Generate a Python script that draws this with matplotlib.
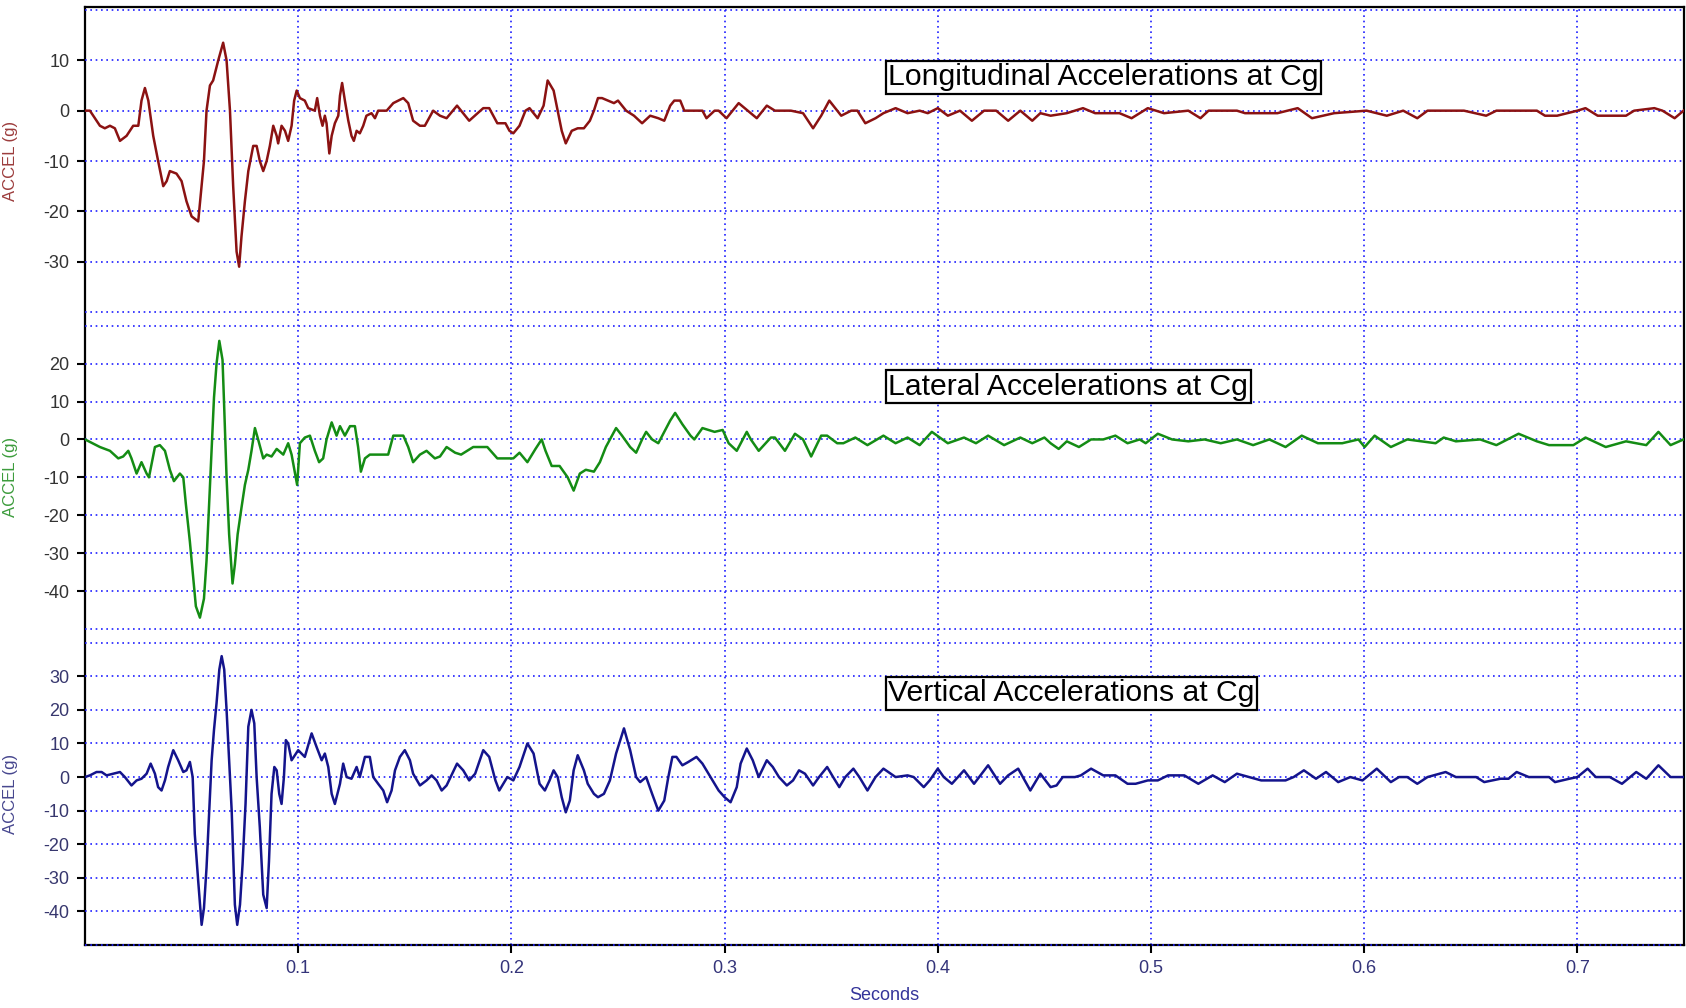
import numpy as np
import matplotlib.pyplot as plt

plt.rcParams['font.family'] = ['Liberation Sans', 'DejaVu Sans']
plt.rcParams['axes.unicode_minus'] = False

# time (s), acceleration (g)
longitudinal = [
    (0.0000, 0), (0.0023, 0), (0.0070, -3), (0.0093, -3.5), (0.0117, -3), (0.0140, -3.5),
    (0.0164, -6), (0.0195, -5), (0.0226, -3), (0.0250, -3), (0.0265, 2), (0.0281, 4.5),
    (0.0297, 2), (0.0320, -5), (0.0343, -10), (0.0367, -15), (0.0383, -14), (0.0398, -12),
    (0.0429, -12.5), (0.0453, -14), (0.0476, -18), (0.0500, -21), (0.0531, -22), (0.0547, -15),
    (0.0558, -10), (0.0570, 0), (0.0586, 5), (0.0601, 6), (0.0625, 10), (0.0648, 13.5),
    (0.0664, 10), (0.0680, 0), (0.0695, -15), (0.0711, -28), (0.0723, -31), (0.0734, -25),
    (0.0750, -18), (0.0766, -12), (0.0789, -7), (0.0805, -7), (0.0820, -10), (0.0836, -12),
    (0.0852, -10), (0.0867, -7), (0.0883, -3), (0.0899, -5), (0.0906, -6.5), (0.0922, -3),
    (0.0938, -4), (0.0953, -6), (0.0969, -3), (0.0981, 2), (0.0993, 4), (0.1008, 2.5),
    (0.1031, 2), (0.1047, 0.5), (0.1078, 0), (0.1089, 2.5), (0.1102, -1), (0.1114, -3),
    (0.1125, -1), (0.1133, -2.5), (0.1146, -8.5), (0.1157, -5), (0.1172, -2.5), (0.1188, -1),
    (0.1196, 3), (0.1206, 5.5), (0.1219, 2), (0.1235, -2), (0.1250, -5), (0.1261, -6),
    (0.1274, -4), (0.1289, -4.5), (0.1305, -3), (0.1320, -1), (0.1344, -0.5), (0.1360, -1.5),
    (0.1375, 0), (0.1415, 0), (0.1446, 1.5), (0.1493, 2.5), (0.1516, 1.5), (0.1539, -2),
    (0.1571, -3), (0.1594, -3), (0.1633, 0), (0.1665, -1), (0.1696, -1.5),
    (0.1745, 1), (0.1802, -2), (0.1868, 0.5), (0.1896, 0.5), (0.1934, -2.5), (0.1972, -2.5),
    (0.1991, -4), (0.2009, -4.5), (0.2038, -3), (0.2066, 0), (0.2085, 0.5), (0.2123, -1.5),
    (0.2151, 1), (0.2170, 6), (0.2198, 4), (0.2217, 0), (0.2236, -4), (0.2255, -6.5),
    (0.2283, -4), (0.2311, -3.5), (0.2340, -3.5), (0.2368, -2), (0.2387, 0), (0.2406, 2.5),
    (0.2425, 2.5), (0.2453, 2), (0.2481, 1.5), (0.2500, 2), (0.2538, 0), (0.2575, -1),
    (0.2613, -2.5), (0.2651, -1), (0.2689, -1.5), (0.2717, -2), (0.2745, 1), (0.2764, 2),
    (0.2792, 2), (0.2811, 0), (0.2896, 0), (0.2915, -1.5), (0.2953, 0), (0.2972, 0),
    (0.3009, -1.5), (0.3066, 1.5), (0.3123, -0.5), (0.3151, -1.5), (0.3198, 1), (0.3236, 0),
    (0.3311, 0), (0.3368, -0.5), (0.3415, -3.5), (0.3453, -1), (0.3491, 2), (0.3519, 0.5),
    (0.3547, -1), (0.3594, 0), (0.3623, 0), (0.3660, -2.5), (0.3708, -1.5), (0.3745, -0.5),
    (0.3802, 0.5), (0.3858, -0.5), (0.3915, 0), (0.3953, -0.5), (0.4000, 0.5), (0.4047, -1),
    (0.4104, 0), (0.4160, -2), (0.4217, 0), (0.4274, 0), (0.4330, -2), (0.4387, 0),
    (0.4443, -2), (0.4481, -0.5),
    (0.4529, -1), (0.4605, -0.5), (0.4681, 0.5), (0.4738, -0.5), (0.4852, -0.5), (0.4909, -1.5),
    (0.4985, 0.5), (0.5061, -0.5), (0.5175, 0), (0.5232, -1.5), (0.5270, 0), (0.5403, 0),
    (0.5441, -0.5), (0.5593, -0.5), (0.5688, 0.5), (0.5755, -1.5), (0.5859, -0.5), (0.6011, 0),
    (0.6106, -1), (0.6183, 0), (0.6249, -1.5), (0.6297, 0), (0.6468, 0), (0.6572, -1),
    (0.6620, 0), (0.6810, 0), (0.6848, -1), (0.6905, -1), (0.7000, 0), (0.7038, 0.5),
    (0.7095, -1), (0.7228, -1), (0.7266, 0), (0.7361, 0.5), (0.7399, 0), (0.7456, -1.5),
    (0.7498, 0),
]

lateral = [
    (0.0000, 0), (0.0070, -2), (0.0117, -3), (0.0156, -5), (0.0179, -4.5), (0.0203, -3),
    (0.0218, -5), (0.0242, -9), (0.0265, -6), (0.0289, -9), (0.0300, -10), (0.0328, -2),
    (0.0351, -1.5), (0.0375, -3), (0.0398, -8), (0.0417, -11), (0.0445, -9), (0.0461, -10),
    (0.0473, -17), (0.0492, -27), (0.0505, -35), (0.0520, -44), (0.0539, -47), (0.0558, -42),
    (0.0570, -32), (0.0583, -16), (0.0594, -2), (0.0605, 11), (0.0617, 20), (0.0630, 26),
    (0.0645, 21), (0.0652, 10), (0.0664, -10), (0.0676, -25), (0.0692, -38), (0.0703, -33),
    (0.0716, -25), (0.0734, -18), (0.0750, -12), (0.0766, -8), (0.0781, -3), (0.0797, 3),
    (0.0812, 0), (0.0836, -5), (0.0852, -4), (0.0875, -4.5), (0.0899, -2.5), (0.0930, -4),
    (0.0953, -1), (0.0969, -4), (0.0985, -9), (0.0995, -12), (0.1008, -1), (0.1031, 0.5),
    (0.1055, 1), (0.1078, -3), (0.1098, -6), (0.1117, -5), (0.1133, 0), (0.1157, 4.5),
    (0.1180, 1), (0.1196, 3.5), (0.1219, 1), (0.1243, 3.5), (0.1266, 3.5), (0.1281, -2),
    (0.1294, -8.5), (0.1313, -5), (0.1336, -4), (0.1383, -4), (0.1422, -4), (0.1446, 1),
    (0.1493, 1), (0.1516, -2), (0.1539, -6), (0.1571, -4), (0.1602, -3), (0.1641, -5),
    (0.1665, -4.5), (0.1696, -2),
    (0.1736, -3.5), (0.1764, -4), (0.1821, -2), (0.1887, -2), (0.1934, -5), (0.1972, -5),
    (0.2009, -5), (0.2038, -3.5), (0.2075, -6), (0.2113, -2.5), (0.2142, 0), (0.2160, -3),
    (0.2189, -7), (0.2226, -7), (0.2264, -10), (0.2292, -13.5), (0.2321, -9), (0.2349, -8),
    (0.2387, -8.5), (0.2415, -6), (0.2443, -2), (0.2462, 0), (0.2491, 3), (0.2519, 1),
    (0.2557, -2), (0.2585, -3.5), (0.2613, 0), (0.2632, 2), (0.2660, 0), (0.2689, -1),
    (0.2726, 3), (0.2745, 5), (0.2768, 7), (0.2802, 4), (0.2840, 1), (0.2858, 0),
    (0.2896, 3), (0.2925, 2.5), (0.2953, 2), (0.2991, 2.5), (0.3019, -1), (0.3057, -3),
    (0.3104, 2), (0.3123, 0), (0.3160, -3), (0.3217, 0.5), (0.3236, 0.5), (0.3283, -3),
    (0.3330, 1.5), (0.3368, 0), (0.3406, -4.5), (0.3453, 1), (0.3481, 1), (0.3528, -1),
    (0.3557, -1), (0.3613, 0.5), (0.3670, -1.5), (0.3745, 1), (0.3802, -1), (0.3858, 0.5),
    (0.3915, -1.5), (0.3972, 2), (0.4047, -1), (0.4123, 0.5), (0.4179, -1), (0.4236, 1),
    (0.4311, -1.5), (0.4387, 0.5), (0.4443, -1), (0.4500, 0.5),
    (0.4529, -1), (0.4567, -2.5), (0.4605, -0.5), (0.4662, -2), (0.4719, 0), (0.4776, 0),
    (0.4833, 1), (0.4890, -1), (0.4947, 0), (0.4975, -1), (0.5032, 1.5), (0.5099, 0),
    (0.5175, -0.5), (0.5251, 0), (0.5327, -1), (0.5403, 0), (0.5479, -1.5), (0.5555, 0),
    (0.5631, -2), (0.5707, 1), (0.5783, -1), (0.5897, -1), (0.5973, 0), (0.6002, -2),
    (0.6049, 1), (0.6125, -2), (0.6202, 0), (0.6335, -1), (0.6373, 0.5), (0.6430, -0.5),
    (0.6544, 0), (0.6620, -1.5), (0.6724, 1.5), (0.6810, -0.5), (0.6867, -1.5), (0.6981, -1.5),
    (0.7038, 0.5), (0.7133, -2), (0.7228, -0.5), (0.7323, -1.5), (0.7380, 2), (0.7437, -1.5),
    (0.7498, 0),
]

vertical = [
    (0.0000, 0), (0.0023, 0.5), (0.0054, 1.5), (0.0078, 1.5), (0.0101, 0.5), (0.0132, 1),
    (0.0164, 1.5), (0.0187, 0), (0.0218, -2.5), (0.0242, -1), (0.0265, -0.5), (0.0289, 1),
    (0.0308, 4), (0.0328, 1), (0.0343, -3), (0.0359, -4), (0.0375, -1), (0.0390, 3),
    (0.0414, 8), (0.0437, 5), (0.0461, 1.5), (0.0476, 2), (0.0492, 4.5), (0.0505, 0),
    (0.0515, -17), (0.0531, -31), (0.0547, -44), (0.0558, -39), (0.0570, -27), (0.0583, -10),
    (0.0594, 5), (0.0605, 14), (0.0617, 22), (0.0630, 32), (0.0641, 36), (0.0653, 32),
    (0.0664, 20), (0.0676, 5), (0.0688, -10), (0.0703, -38), (0.0714, -44), (0.0727, -38),
    (0.0739, -26), (0.0753, -8), (0.0766, 15), (0.0781, 20), (0.0794, 16), (0.0805, 0),
    (0.0820, -15), (0.0836, -35), (0.0852, -39), (0.0863, -25), (0.0875, -5), (0.0888, 3),
    (0.0899, 2), (0.0911, -5), (0.0922, -8), (0.0933, 0), (0.0942, 11), (0.0953, 10),
    (0.0969, 5), (0.1000, 8), (0.1031, 6), (0.1063, 13), (0.1086, 9), (0.1110, 5),
    (0.1125, 7), (0.1141, 3), (0.1157, -5), (0.1172, -8), (0.1196, -2), (0.1211, 4),
    (0.1227, 0), (0.1250, -0.5), (0.1274, 3), (0.1289, 0), (0.1313, 6), (0.1336, 6),
    (0.1352, 0), (0.1375, -2), (0.1399, -4), (0.1417, -7.5), (0.1438, -4), (0.1454, 2),
    (0.1477, 6), (0.1500, 8), (0.1524, 5), (0.1539, 1), (0.1571, -2.5), (0.1602, -1),
    (0.1626, 0.5), (0.1649, -1), (0.1673, -4), (0.1696, -2.5),
    (0.1745, 4), (0.1774, 2), (0.1802, -1), (0.1830, 1), (0.1868, 8), (0.1896, 6),
    (0.1925, -1), (0.1943, -4), (0.1981, 0), (0.2009, -1), (0.2038, 3), (0.2075, 10),
    (0.2104, 7), (0.2132, -2), (0.2157, -4), (0.2179, -1), (0.2198, 2), (0.2217, 0),
    (0.2236, -6), (0.2255, -10.5), (0.2274, -7), (0.2292, 2), (0.2311, 6.5), (0.2340, 2),
    (0.2358, -2), (0.2387, -5), (0.2406, -6), (0.2434, -5), (0.2462, -1), (0.2491, 7),
    (0.2528, 14.5), (0.2557, 8), (0.2585, 0), (0.2604, -1.5), (0.2632, 0), (0.2660, -5),
    (0.2689, -10), (0.2717, -7), (0.2736, 0), (0.2755, 6), (0.2774, 6), (0.2802, 3.5),
    (0.2830, 4.5), (0.2868, 6), (0.2896, 4), (0.2934, 0), (0.2972, -4), (0.3000, -6),
    (0.3028, -7.5), (0.3057, -3), (0.3075, 4), (0.3104, 8.5), (0.3132, 5), (0.3160, 0),
    (0.3198, 5), (0.3226, 3), (0.3255, 0), (0.3292, -2.5), (0.3321, -1), (0.3349, 2),
    (0.3377, 1), (0.3415, -2.5), (0.3443, 0), (0.3481, 3), (0.3509, 0), (0.3538, -3),
    (0.3566, 0), (0.3604, 2.5), (0.3632, 0), (0.3670, -4), (0.3708, 0), (0.3745, 2.5),
    (0.3802, 0), (0.3858, 0.5), (0.3887, 0), (0.3934, -3), (0.3962, -1), (0.4000, 2.5),
    (0.4028, 0), (0.4066, -2), (0.4123, 2), (0.4170, -2), (0.4236, 3.5), (0.4292, -2),
    (0.4330, 0.5), (0.4377, 2.5), (0.4434, -4), (0.4481, 1),
    (0.4529, -3), (0.4557, -2.5), (0.4586, 0), (0.4643, 0), (0.4671, 0.5), (0.4719, 2.5),
    (0.4776, 0.5), (0.4833, 0.5), (0.4890, -2), (0.4928, -2), (0.4985, -1), (0.5032, -1),
    (0.5080, 0.5), (0.5156, 0.5), (0.5222, -2), (0.5289, 0.5), (0.5346, -1.5), (0.5403, 1),
    (0.5460, 0), (0.5517, -1), (0.5631, -1), (0.5669, 0), (0.5717, 2), (0.5774, -0.5),
    (0.5821, 1.5), (0.5878, -1.5), (0.5935, 0), (0.5992, -1), (0.6059, 2.5), (0.6125, -1.5),
    (0.6163, 0), (0.6202, 0), (0.6249, -2), (0.6297, 0), (0.6382, 1.5), (0.6430, 0),
    (0.6525, 0), (0.6563, -1.5), (0.6639, -0.5), (0.6677, -0.5), (0.6715, 1.5), (0.6772, 0),
    (0.6867, 0), (0.6895, -1.5), (0.6962, -0.5), (0.7000, 0), (0.7048, 2.5), (0.7086, 0),
    (0.7152, 0), (0.7209, -2), (0.7276, 1.5), (0.7323, -0.5), (0.7380, 3.5), (0.7437, 0),
    (0.7498, 0),
]

titles = ['Longitudinal Accelerations at Cg', 'Lateral Accelerations at Cg',
          'Vertical Accelerations at Cg']
ylims = [(-40, 20), (-50, 30), (-50, 40)]
yticks = [[-30, -20, -10, 0, 10], [-40, -30, -20, -10, 0, 10, 20],
          [-40, -30, -20, -10, 0, 10, 20, 30]]
box_y = [6.6, 13.9, 24.9]
xticks = [0.1, 0.2, 0.3, 0.4, 0.5, 0.6, 0.7]

line_colors = ['#8b1212', '#148c14', '#14148c']
label_colors = ['#9c3c3c', '#3c9c3c', '#46468e']
tick_colors = ['#333333', '#333333', '#37376e']
grid_c = '#1f1fff'
dots = (0, (1, 2.2))

W_PX, H_PX = 1686, 1008
fig = plt.figure(figsize=(W_PX / 100, H_PX / 100), dpi=100)
left = 85 / W_PX
width = 1684 / W_PX - left

# outer frame with the time axis and vertical grid
bg = fig.add_axes([left, 1 - 945 / H_PX, width, (945 - 7) / H_PX])
bg.set_xlim(0, 0.75)
bg.set_ylim(0, 1)
bg.set_yticks([])
bg.set_xticks(xticks)
bg.set_xticklabels([f'{x:g}' for x in xticks])
bg.tick_params(axis='x', length=6, width=1.5, pad=5, labelsize=13, labelcolor='#34347a')
bg.set_xlabel('Seconds', fontsize=13, color='#34349a', labelpad=7)
for s in bg.spines.values():
    s.set_linewidth(1.6)
    s.set_color('black')
for x in xticks:
    bg.axvline(x, color=grid_c, ls=dots, lw=1.2, zorder=0)

# panel extents in pixels (top, bottom)
extents = [(10, 312), (325.7, 629), (642.7, 945)]
series = [longitudinal, lateral, vertical]

for i, (top, bot) in enumerate(extents):
    ax = fig.add_axes([left, 1 - bot / H_PX, width, (bot - top) / H_PX])
    ax.patch.set_alpha(0)
    for s in ax.spines.values():
        s.set_visible(False)
    ax.set_xlim(0, 0.75)
    ax.set_ylim(*ylims[i])
    ax.set_xticks([])
    ax.set_yticks(yticks[i])
    ax.tick_params(axis='y', length=6, width=1.5, pad=5, labelsize=13,
                   color='black', labelcolor=tick_colors[i])
    for v in list(yticks[i]) + list(ylims[i]):
        ax.axhline(v, color=grid_c, ls=dots, lw=1.2, zorder=1, clip_on=False)

    data = np.array(series[i])
    ax.plot(data[:, 0], data[:, 1], color=line_colors[i], lw=1.8, zorder=3)

    ax.set_ylabel('ACCEL (g)', fontsize=12, color=label_colors[i])
    ax.yaxis.set_label_coords(-0.0419, 0.5)

    ax.text(0.3768, box_y[i], titles[i], fontsize=21.7, ha='left', va='center', zorder=5,
            bbox=dict(boxstyle='square,pad=0.08', fc='white', ec='black', lw=1.6))

fig.savefig('out.png', dpi=100)
